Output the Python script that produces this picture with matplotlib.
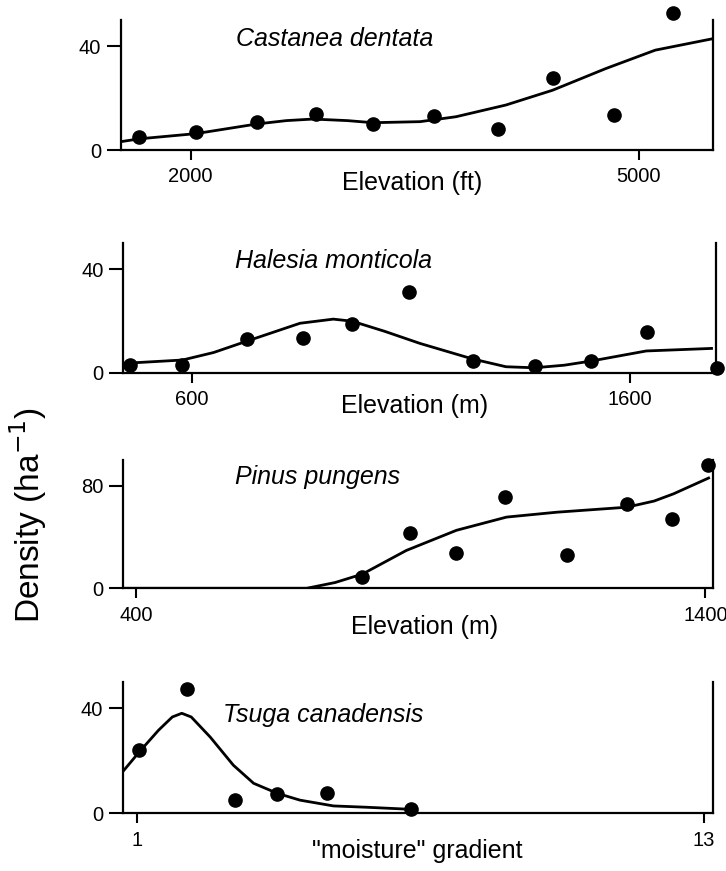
import matplotlib
matplotlib.use("Agg")
import matplotlib.pyplot as plt

plt.rcParams['font.family'] = ['Liberation Sans', 'DejaVu Sans']

# ---------------- data ----------------
castanea_x = [1656, 2035, 2442, 2839, 3223, 3631, 4060, 4426, 4837, 5228]
castanea_y = [4.9, 6.8, 10.6, 13.7, 9.9, 13.2, 8.1, 27.6, 13.3, 52.7]
castanea_fit_x = [1531, 1656, 2035, 2442, 2640, 2819, 3050, 3221, 3536, 3777, 4111, 4424, 4779, 5111, 5496]
castanea_fit_y = [3.2, 4.3, 6.3, 10.0, 11.3, 11.9, 11.3, 10.5, 10.9, 12.8, 17.3, 23.0, 31.3, 38.4, 42.8]

halesia_x = [459, 579, 726, 853, 966, 1096, 1241, 1382, 1511, 1638, 1798]
halesia_y = [3.0, 3.0, 12.9, 13.5, 18.7, 31.2, 4.6, 2.6, 4.5, 15.6, 1.7]
halesia_fit_x = [444, 579, 650, 726, 847, 923, 966, 1040, 1121, 1241, 1317, 1382, 1450, 1511, 1637, 1789]
halesia_fit_y = [3.6, 4.9, 7.8, 12.2, 19.1, 20.7, 19.9, 16.0, 11.3, 5.3, 2.3, 1.9, 2.9, 4.5, 8.4, 9.4]

pinus_x = [798, 881, 963, 1048, 1157, 1262, 1341, 1405]
pinus_y = [9.0, 43.1, 27.9, 71.0, 26.3, 65.8, 53.7, 96.3]
pinus_fit_x = [377, 700, 750, 798, 875, 963, 1051, 1139, 1262, 1310, 1344, 1408]
pinus_fit_y = [0, 0, 4.5, 11.1, 29.5, 45.2, 55.5, 59.3, 63.2, 68.0, 73.6, 86.4]

tsuga_x = [1.05, 2.07, 3.08, 3.97, 5.03, 6.81]
tsuga_y = [24.0, 47.3, 5.0, 7.2, 7.8, 1.6]
tsuga_fit_x = [0.70, 1.05, 1.46, 1.75, 1.95, 2.15, 2.55, 3.04, 3.47, 3.97, 4.45, 5.16, 5.86, 6.81]
tsuga_fit_y = [15.8, 23.3, 31.6, 36.6, 38.0, 36.6, 29.0, 18.3, 11.4, 7.6, 5.0, 2.8, 2.3, 1.5]

species = ["Castanea dentata", "Halesia monticola", "Pinus pungens", "Tsuga canadensis"]
xlabels = ["Elevation (ft)", "Elevation (m)", "Elevation (m)", '"moisture" gradient']
xticks = [[2000, 5000], [600, 1600], [400, 1400], [1, 13]]
yticks = [[0, 40], [0, 40], [0, 80], [0, 40]]
xlims = [(1531, 5500), (444, 1796), (377, 1414), (0.70, 13.19)]
ylims = [(0, 50), (0, 50), (0, 100), (0, 50)]

# ---------------- layout (pixels) ----------------
W, H = 726, 871
fig = plt.figure(figsize=(W / 100, H / 100), dpi=100)

def fx(x):
    return x / W

def fy(y):
    return 1 - y / H

boxes = [  # left, right, bottom, top (pixel)
    (120.7, 713.3, 150.0, 20.0),
    (123.3, 716.0, 372.7, 243.3),
    (122.7, 713.3, 588.3, 460.0),
    (122.7, 713.0, 813.3, 681.7),
]
species_pos = [(236, 45.7), (235, 268.3), (235, 484.3), (223, 721.7)]
xlabel_pos = [(412, 183), (415, 406), (425, 627), (417, 851)]

points = [(castanea_x, castanea_y), (halesia_x, halesia_y), (pinus_x, pinus_y), (tsuga_x, tsuga_y)]
fits = [(castanea_fit_x, castanea_fit_y), (halesia_fit_x, halesia_fit_y),
        (pinus_fit_x, pinus_fit_y), (tsuga_fit_x, tsuga_fit_y)]

for i in range(4):
    l, r, b, t = boxes[i]
    ax = fig.add_axes([fx(l), fy(b), (r - l) / W, (b - t) / H])
    ax.set_xlim(*xlims[i])
    ax.set_ylim(*ylims[i])
    ax.plot(fits[i][0], fits[i][1], color='black', lw=2.0, solid_capstyle='butt',
            solid_joinstyle='round', zorder=2)
    ax.plot(points[i][0], points[i][1], 'o', color='black', ms=9.5, clip_on=False, zorder=3)
    ax.spines['top'].set_visible(False)
    for s in ['left', 'right', 'bottom']:
        ax.spines[s].set_linewidth(1.6)
    ax.set_xticks(xticks[i])
    ax.set_yticks(yticks[i])
    ax.tick_params(axis='y', direction='out', length=10, width=1.5, labelsize=14.5, pad=4)
    ax.tick_params(axis='x', direction='out', length=7.5, width=1.5, labelsize=14.5, pad=5)
    ax.patch.set_visible(False)
    fig.text(fx(species_pos[i][0]), fy(species_pos[i][1]), species[i], fontsize=18,
             style='italic', ha='left', va='baseline')
    fig.text(fx(xlabel_pos[i][0]), fy(xlabel_pos[i][1]), xlabels[i], fontsize=18,
             ha='center', va='center')

fig.text(fx(28), fy(515), r"Density (ha$^{-1}$)", fontsize=24, rotation=90,
         ha='center', va='center')

fig.savefig("out.png", dpi=100)
